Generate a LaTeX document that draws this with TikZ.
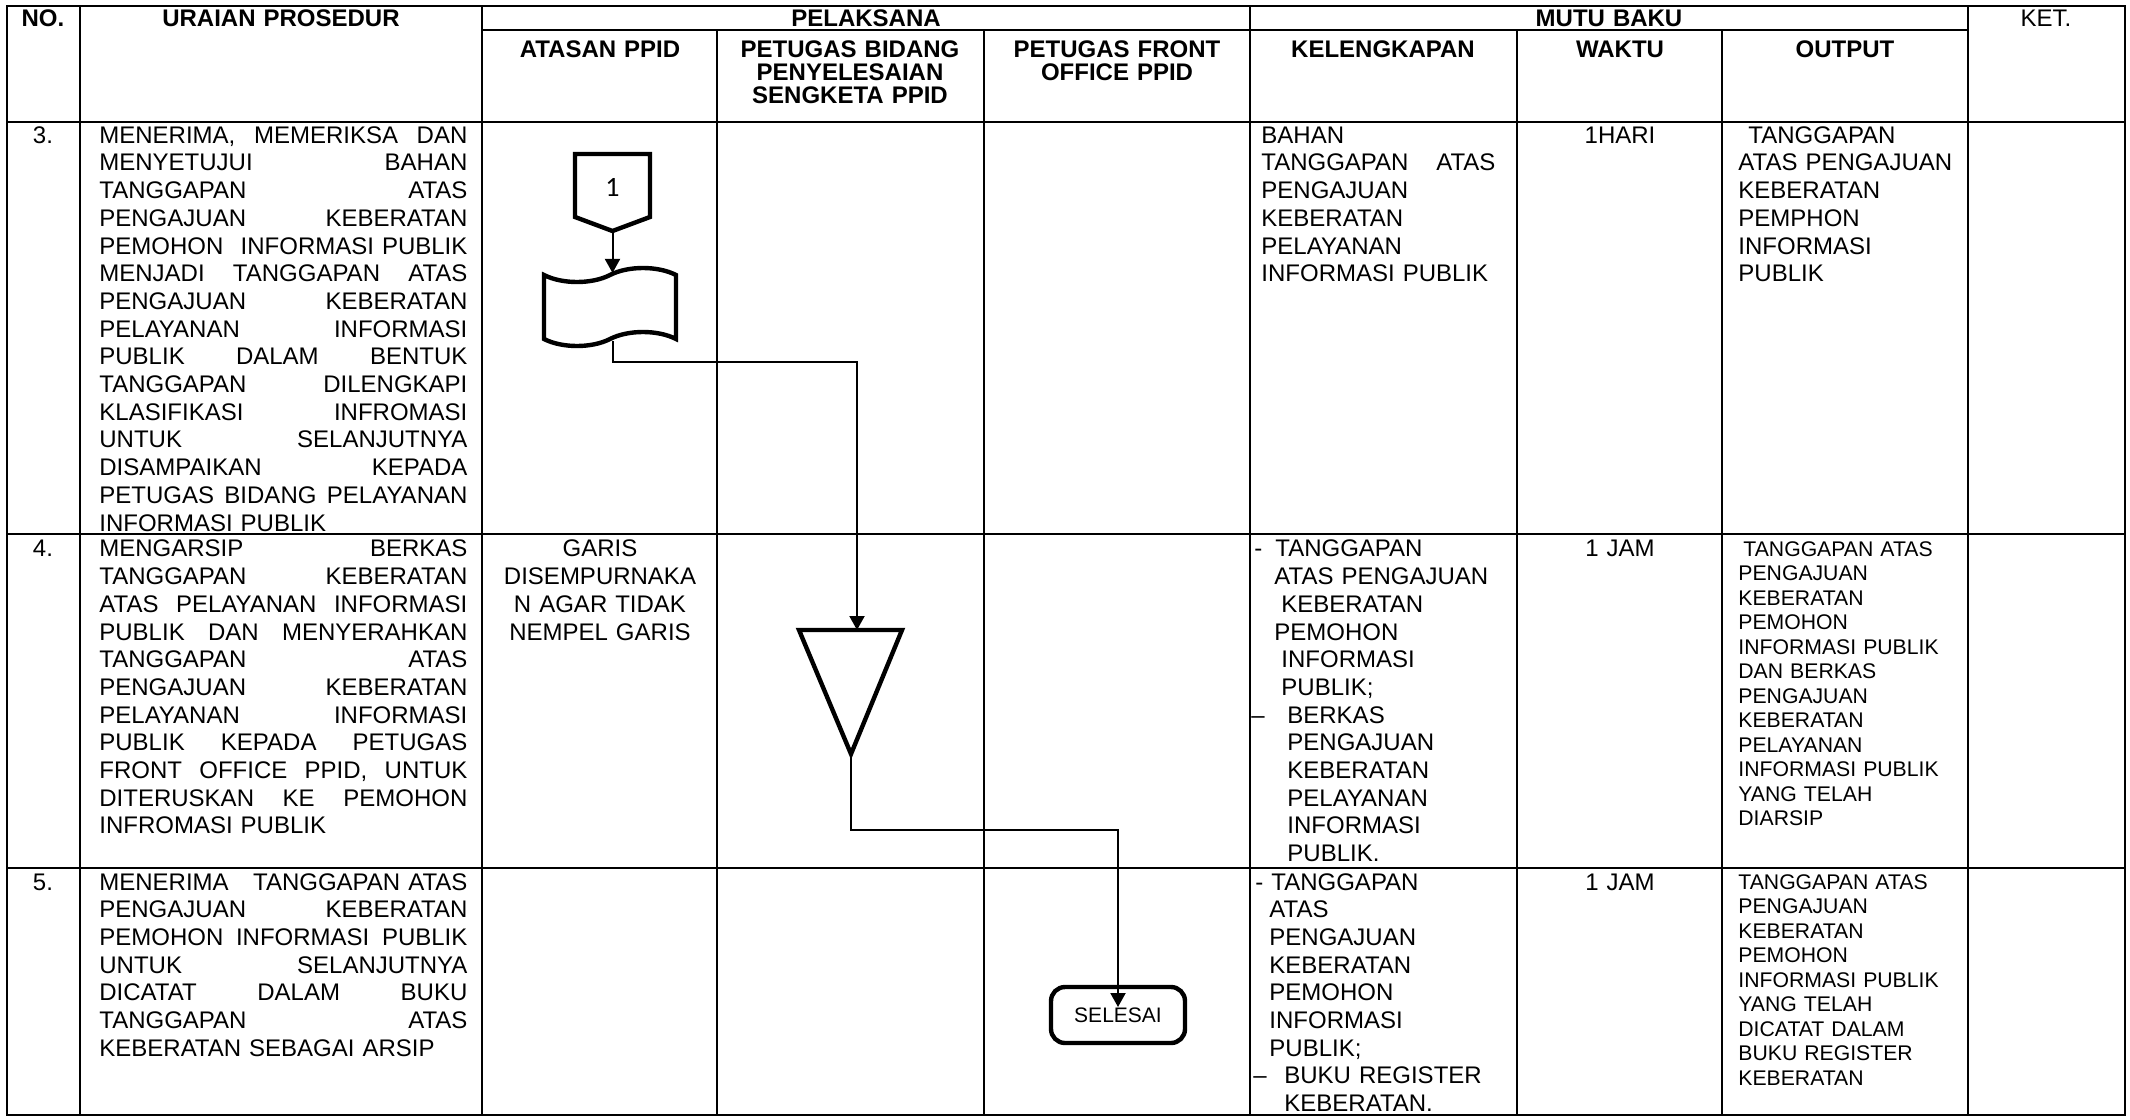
\documentclass[tikz,border=0pt]{standalone}
\usepackage{fontspec}
\setmainfont{Liberation Sans}
\newfontfamily\digitfont{Carlito}
\usetikzlibrary{arrows.meta,shapes.symbols}

\newcommand{\bodyfont}{\fontsize{12}{13.85}\selectfont}
\newcommand{\outfont}{\fontsize{10.6}{12.25}\selectfont}
\newcommand{\headfont}{\fontsize{12}{11.5}\selectfont\bfseries}
\newcommand{\hstrut}{\rule{0pt}{9pt}}
\newcommand{\jl}[2][184pt]{\leavevmode\hbox to #1{#2}\\}

\tikzset{
  tableline/.style={line width=1.25pt},
  shapeline/.style={draw, line width=2.2pt},
  flowline/.style={line width=1pt, -{Triangle[length=7pt,width=7.5pt]}},
  hcell/.style={anchor=north, inner sep=0pt, text width=#1, align=center,
    font=\headfont, execute at begin node=\hstrut},
  ncell/.style={anchor=north, inner sep=0pt, text width=30pt, align=center,
    font=\bodyfont, execute at begin node=\strut},
  ccell/.style={anchor=north, inner sep=0pt, text width=#1, align=center,
    font=\bodyfont, execute at begin node=\strut},
  cell/.style={anchor=north west, inner sep=0pt, text width=#1, align=left,
    font=\bodyfont, execute at begin node=\strut},
  cell/.default=184pt,
  scell/.style={cell=#1, font=\outfont},
  tapebox/.style={tape, draw, line width=2.2pt, minimum width=66pt,
    minimum height=39pt, inner sep=0pt, tape bend height=7pt},
  endbox/.style={draw, line width=2.2pt, rounded corners=7pt, minimum width=67pt,
    minimum height=28pt, inner sep=0pt, font=\fontsize{10.5}{12}\selectfont}
}

\begin{document}
\begin{tikzpicture}[x=0.5pt, y=-0.5pt]
\fill[white] (0,0) rectangle (2130,1119);
\useasboundingbox (0,0) rectangle (2130,1119);

% table
\draw[tableline] (7,6) rectangle (2125,1115);
\draw[tableline] (482,30) -- (1968,30);
\foreach \y in {122,534,868} \draw[tableline] (7,\y) -- (2125,\y);
\foreach \x in {80,482,1250,1968} \draw[tableline] (\x,6) -- (\x,1115);
\foreach \x in {717,984,1517,1722} \draw[tableline] (\x,30) -- (\x,1115);

% header
\node[hcell=60pt] (hno) at (43,8) {NO.};
\node[hcell=190pt] (huraian) at (281,8) {URAIAN PROSEDUR};
\node[hcell=300pt] (hpelaksana) at (866,8) {PELAKSANA};
\node[hcell=300pt] (hmutu) at (1609,8) {MUTU BAKU};
\node[hcell=70pt, font=\fontsize{12}{11.5}\selectfont] (hket) at (2046,8) {KET.};
\node[hcell=110pt] (hatasan) at (600,39.5) {ATASAN PPID};
\node[hcell=125pt] (hbidang) at (850,39.5) {PETUGAS BIDANG\\PENYELESAIAN\\SENGKETA PPID};
\node[hcell=125pt] (hfront) at (1117,39.5) {PETUGAS FRONT\\OFFICE PPID};
\node[hcell=125pt] (hlengkap) at (1383,39.5) {KELENGKAPAN};
\node[hcell=100pt] (hwaktu) at (1620,39.5) {WAKTU};
\node[hcell=115pt] (houtput) at (1845,39.5) {OUTPUT};

% row 3
\node[ncell] (n3) at (43,123.5) {3.};
\node[cell] (u3) at (99,123.5) {\jl{MENERIMA, \hfill MEMERIKSA \hfill DAN}\jl{MENYETUJUI \hfill BAHAN}%
  \jl{TANGGAPAN \hfill ATAS}\jl{PENGAJUAN \hfill KEBERATAN}\jl{PEMOHON \hfill INFORMASI PUBLIK}%
  \jl{MENJADI \hfill TANGGAPAN \hfill ATAS}\jl{PENGAJUAN \hfill KEBERATAN}%
  \jl{PELAYANAN \hfill INFORMASI}\jl{PUBLIK \hfill DALAM \hfill BENTUK}%
  \jl{TANGGAPAN \hfill DILENGKAPI}\jl{KLASIFIKASI \hfill INFROMASI}%
  \jl{UNTUK \hfill SELANJUTNYA}\jl{DISAMPAIKAN \hfill KEPADA}%
  \jl{PETUGAS \hfill BIDANG \hfill PELAYANAN}INFORMASI PUBLIK};
\node[cell=117pt] (k3) at (1261,123.5) {BAHAN\\\jl[117pt]{TANGGAPAN \hfill ATAS}PENGAJUAN\\
  KEBERATAN\\PELAYANAN\\INFORMASI PUBLIK};
\node[ccell=90pt] (w3) at (1620,123.5) {1HARI};
\node[cell=113pt] (o3) at (1738,123.5) {\hspace*{5pt}TANGGAPAN\\ATAS PENGAJUAN\\KEBERATAN\\
  PEMPHON\\INFORMASI\\PUBLIK};

% row 4
\node[ncell] (n4) at (43,537.2) {4.};
\node[cell] (u4) at (99,537.2) {\jl{MENGARSIP \hfill BERKAS}\jl{TANGGAPAN \hfill KEBERATAN}%
  \jl{ATAS \hfill PELAYANAN \hfill INFORMASI}\jl{PUBLIK \hfill DAN \hfill MENYERAHKAN}%
  \jl{TANGGAPAN \hfill ATAS}\jl{PENGAJUAN \hfill KEBERATAN}\jl{PELAYANAN \hfill INFORMASI}%
  \jl{PUBLIK \hfill KEPADA \hfill PETUGAS}\jl{FRONT \hfill OFFICE \hfill PPID, \hfill UNTUK}%
  \jl{DITERUSKAN \hfill KE \hfill PEMOHON}INFROMASI PUBLIK};
\node[ccell=115pt] (a4) at (600,537.2) {GARIS\\DISEMPURNAKA\\N AGAR TIDAK\\NEMPEL GARIS};
\node[cell=132pt] (k4) at (1251,537.2) {\hspace*{1.5pt}-\hspace{6.5pt}TANGGAPAN\\
  \hspace*{11.5pt}ATAS PENGAJUAN\\\hspace*{15pt}KEBERATAN\\\hspace*{11.5pt}PEMOHON\\
  \hspace*{15pt}INFORMASI\\\hspace*{15pt}PUBLIK;\\\makebox[18pt][l]{–}BERKAS\\
  \hspace*{18pt}PENGAJUAN\\\hspace*{18pt}KEBERATAN\\\hspace*{18pt}PELAYANAN\\
  \hspace*{18pt}INFORMASI\\\hspace*{18pt}PUBLIK.};
\node[ccell=90pt] (w4) at (1620,537.2) {1 JAM};
\node[scell=113pt] (o4) at (1738,538.45) {\hspace*{2.5pt}TANGGAPAN ATAS\\PENGAJUAN\\
  KEBERATAN\\PEMOHON\\INFORMASI PUBLIK\\DAN BERKAS\\PENGAJUAN\\KEBERATAN\\PELAYANAN\\
  INFORMASI PUBLIK\\YANG TELAH\\DIARSIP};

% row 5
\node[ncell] (n5) at (43,870.2) {5.};
\node[cell] (u5) at (99,870.2) {\jl{MENERIMA \hfill TANGGAPAN ATAS}%
  \jl{PENGAJUAN \hfill KEBERATAN}\jl{PEMOHON \hfill INFORMASI \hfill PUBLIK}%
  \jl{UNTUK \hfill SELANJUTNYA}\jl{DICATAT \hfill DALAM \hfill BUKU}%
  \jl{TANGGAPAN \hfill ATAS}KEBERATAN SEBAGAI ARSIP};
\node[cell=132pt] (k5) at (1251,870.2) {\hspace*{2pt}- TANGGAPAN\\\hspace*{9pt}ATAS\\
  \hspace*{9pt}PENGAJUAN\\\hspace*{9pt}KEBERATAN\\\hspace*{9pt}PEMOHON\\
  \hspace*{9pt}INFORMASI\\\hspace*{9pt}PUBLIK;\\
  \hspace*{1pt}\makebox[15.5pt][l]{–}BUKU REGISTER\\\hspace*{16.5pt}KEBERATAN.};
\node[ccell=90pt] (w5) at (1620,870.2) {1 JAM};
\node[scell=113pt] (o5) at (1738,871.45) {TANGGAPAN ATAS\\PENGAJUAN\\KEBERATAN\\PEMOHON\\
  INFORMASI PUBLIK\\YANG TELAH\\DICATAT DALAM\\BUKU REGISTER\\KEBERATAN};

% flow symbols
\draw[shapeline] (575,154) -- (650,154) -- (650,217) -- (612.5,231) -- (575,217) -- cycle;
\node[font=\digitfont\fontsize{14}{14}\selectfont] (pg1) at (612.5,187) {1};
\coordinate (pg1tip) at (612.5,231);
\node[tapebox] (bahan) at (610,307) {};
\draw[shapeline] (799,630) -- (902,630) -- (851,754) -- cycle;
\coordinate (arsipIn) at (857,630);
\coordinate (arsipTip) at (851,754);
\node[endbox] (selesai) at (1118,1015) {SELESAI};

% connectors
\draw[flowline] (pg1tip) -- (pg1tip |- bahan.north);
\draw[flowline] (pg1tip |- bahan.south) -- (pg1tip |- 0,362) -| (arsipIn);
\draw[flowline, shorten >=4pt] (arsipTip) -- (arsipTip |- 0,830) -| (selesai.center);

\end{tikzpicture}
\end{document}
